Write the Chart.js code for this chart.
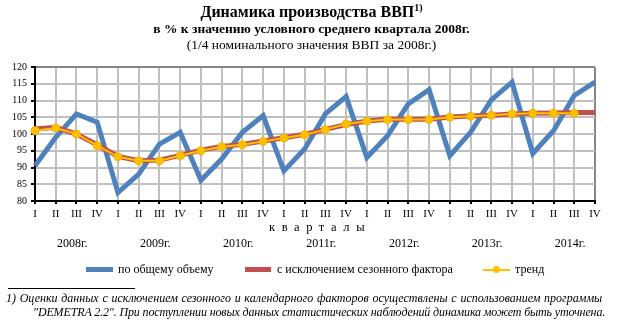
<!DOCTYPE html>
<html>
<head>
<meta charset="utf-8">
<script src="https://cdn.jsdelivr.net/npm/chart.js@4.4.0/dist/chart.umd.min.js"></script>
<style>
    body { margin: 0; background: #fff; }
    #wrap { position: relative; width: 623px; height: 322px; font-family: "Liberation Serif", "Times New Roman", serif; color: #000; }
    #myChart { position: absolute; left: 0; top: 0; }
    .txt { position: absolute; white-space: nowrap; }
    .center { left: 0; width: 623px; text-align: center; }
    .leg { position: absolute; top: 262px; font-size: 12px; }
    .swatch { position: absolute; height: 5px; }
</style>
</head>
<body>
<div id="wrap">
    <canvas id="myChart" width="623" height="322"></canvas>
    <div class="txt center" style="top:2px; font-size:16px; font-weight:bold;">Динамика производства ВВП<sup style="font-size:10px;">1)</sup></div>
    <div class="txt center" style="top:21px; font-size:13.5px; font-weight:bold;">в % к значению условного среднего квартала  2008г.</div>
    <div class="txt center" style="top:37px; font-size:13.5px;">(1/4 номинального значения ВВП за 2008г.)</div>

    <div class="txt" style="top:220px; left:269px; font-size:12.5px; letter-spacing:6.6px;">кварталы</div>

    <div class="swatch" style="left:86px; top:267px; width:27px; background:#4F81BD;"></div>
    <div class="leg" style="left:118px;">по общему объему</div>
    <div class="swatch" style="left:245px; top:267px; width:26px; background:#C0504D;"></div>
    <div class="leg" style="left:277px;">с исключением  сезонного фактора</div>
    <div class="swatch" style="left:483px; top:269px; width:27px; height:2px; background:#FFC000;"></div>
    <div class="swatch" style="left:493px; top:266px; width:7px; height:7px; border-radius:4px; background:#FFC000;"></div>
    <div class="leg" style="left:515px;">тренд</div>

    <div style="position:absolute; left:8px; top:288px; width:127px; border-top:1px solid #000;"></div>
    <div class="txt" style="left:6px; top:291px; font-size:12px; font-style:italic; line-height:14px;">
        <span style="word-spacing:0.7px;">1) Оценки  данных с  исключением сезонного и календарного факторов осуществлены  с использованием  программы</span><br>
        <span style="padding-left:27px; letter-spacing:-0.14px;">"DEMETRA 2.2". При поступлении новых данных статистических наблюдений динамика может быть уточнена.</span>
    </div>
</div>
<script>
const quarters = ["I", "II", "III", "IV", "I", "II", "III", "IV", "I", "II", "III", "IV", "I", "II", "III", "IV",
    "I", "II", "III", "IV", "I", "II", "III", "IV", "I", "II", "III", "IV"];
const years = ["2008г.", "2009г.", "2010г.", "2011г.", "2012г.", "2013г.", "2014г."];

const dataTotal = [90.5, 99, 106, 103.5, 82.5, 88, 97, 100.5, 86.2, 92.5, 100.5, 105.5, 89, 95.5,
    106, 111.2, 93, 99.5, 109, 113.2, 93.5, 100.5, 110.2, 115.5, 94.2, 101, 111.5, 115.5];
const dataSeasonal = [101.5, 102, 100, 96.8, 93.3, 92, 92.2, 93.6, 95.2, 96.3, 96.9, 97.9, 98.9, 99.9,
    101.4, 102.8, 103.9, 104.4, 104.4, 104.4, 105.1, 105.4, 105.6, 106, 106.2, 106.3, 106.4, 106.4];
const dataTrend = [101, 101.8, 100, 96.5, 93.2, 92, 92, 93.5, 95, 96.2, 96.8, 97.8, 98.8, 99.8,
    101.3, 103, 103.8, 104.3, 104.3, 104.3, 105, 105.3, 105.6, 106, 106.2, 106.2, 106.2, null];

// year captions under the quarter ticks
const yearLabels = {
    id: 'yearLabels',
    afterDraw: function (chart) {
        var ctx = chart.ctx;
        var xScale = chart.scales.x;
        ctx.save();
        ctx.fillStyle = "#000";
        ctx.font = "12px 'Liberation Serif'";
        ctx.textAlign = "center";
        ctx.textBaseline = "middle";
        for (let k = 0; k < years.length; k++) {
            ctx.fillText(years[k], xScale.getPixelForValue(4 * k + 1.8), 244);
        }
        ctx.restore();
    }
};

createChart();

function createChart(){
    var ctx = document.getElementById("myChart");
    var myChart = new Chart(ctx, {
        type: 'line',
        data: {
            labels: quarters,
            datasets: [{
                label: "по общему объему",
                data: dataTotal,
                borderColor: "#4F81BD",
                backgroundColor: "#4F81BD",
                borderWidth: 5,
                pointRadius: 0,
                tension: 0,
                order: 3,
                fill: false,
            }, {
                label: "с исключением  сезонного фактора",
                data: dataSeasonal,
                borderColor: "#C0504D",
                backgroundColor: "#C0504D",
                borderWidth: 5,
                pointRadius: 0,
                order: 2,
                fill: false,
            }, {
                label: "тренд",
                data: dataTrend,
                borderColor: "#FFC000",
                backgroundColor: "#FFC000",
                pointBackgroundColor: "#FFC000",
                pointBorderColor: "#F5B400",
                borderWidth: 2,
                pointRadius: 4,
                pointBorderWidth: 1,
                order: 1,
                fill: false,
            }]
        },
        plugins: [yearLabels],
        options: {
            responsive: false,
            animation: false,
            layout: {
                padding: { left: 0, top: 67, right: 28, bottom: 101 }
            },
            plugins: {
                legend: { display: false },
                tooltip: { enabled: false },
            },
            scales: {
                x: {
                    offset: false,
                    afterFit: function (scale) { scale.height = 20; },
                    grid: {
                        color: function (c) { return c.index === quarters.length - 1 ? "#868686" : "#C0C0C0"; },
                        lineWidth: 2,
                        tickColor: "#000",
                        tickLength: 3,
                    },
                    border: { color: "#000", width: 2 },
                    ticks: {
                        color: "#000",
                        autoSkip: false,
                        maxRotation: 0,
                        padding: 4,
                        font: { family: "Liberation Serif", size: 11 },
                    }
                },
                y: {
                    min: 80,
                    max: 120,
                    afterFit: function (scale) { scale.width = 35; },
                    grid: {
                        color: function (c) { return c.tick.value === 120 ? "#868686" : "#C0C0C0"; },
                        lineWidth: 2,
                        tickColor: "#000",
                        tickLength: 4,
                    },
                    border: { color: "#000", width: 2 },
                    ticks: {
                        stepSize: 5,
                        color: "#000",
                        padding: 4,
                        font: { family: "Liberation Serif", size: 10 },
                    }
                }
            }
        }
    });
}
</script>
</body>
</html>
